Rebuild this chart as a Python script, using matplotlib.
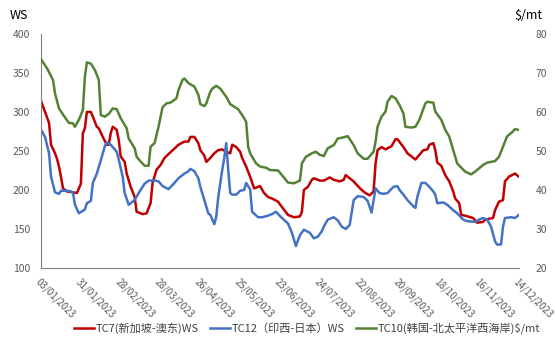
import matplotlib
matplotlib.use("Agg")
import matplotlib.pyplot as plt

plt.rcParams['font.family'] = ['Noto Sans CJK SC', 'DejaVu Sans']

# trading-day index (0 = 03/01/2023) and values
tick_labels = ["03/01/2023", "31/01/2023", "28/02/2023", "28/03/2023", "26/04/2023",
               "25/05/2023", "23/06/2023", "24/07/2023", "22/08/2023", "20/09/2023",
               "18/10/2023", "16/11/2023", "14/12/2023"]
tick_pos = [0, 20, 40, 60, 80, 100, 120, 140, 160, 180, 200, 220, 240]

tc7_day = [0, 2, 4, 5, 7, 8, 9, 10, 11, 13, 16, 18, 20, 21, 22, 23, 25, 26, 28, 29,
           31, 33, 34, 35, 36, 38, 39, 40, 42, 43, 45, 47, 48, 51, 53, 55, 56, 58, 60,
           62, 64, 67, 69, 72, 74, 75, 77, 79, 80, 82, 83, 85, 87, 89, 91, 93, 95, 96,
           98, 100, 101, 103, 105, 107, 109, 110, 112, 114, 116, 119, 121, 124, 127,
           130, 131, 132, 134, 136, 137, 140, 142, 145, 147, 150, 152, 153, 155, 157,
           158, 161, 163, 165, 167, 168, 169, 171, 173, 176, 178, 179, 182, 184, 188,
           190, 192, 194, 195, 197, 198, 199, 201, 203, 205, 207, 208, 210, 211, 213,
           217, 219, 222, 223, 227, 228, 230, 232, 233, 235, 238, 240]
tc7_ws = [314, 300, 286, 258, 247, 240, 230, 217, 202, 198, 197, 196, 208, 273, 279,
          300, 300, 294, 281, 279, 268, 258, 258, 273, 281, 277, 264, 243, 236, 221,
          204, 191, 172, 169, 170, 183, 209, 226, 232, 241, 246, 253, 258, 262, 262,
          268, 268, 260, 251, 244, 236, 241, 247, 251, 252, 249, 247, 258, 255, 249,
          241, 230, 217, 202, 204, 205, 196, 191, 189, 185, 178, 168, 165, 166, 172,
          200, 204, 213, 215, 212, 212, 216, 213, 211, 213, 219, 215, 211, 208, 200,
          196, 193, 198, 234, 251, 255, 252, 256, 265, 265, 255, 247, 239, 245, 251,
          252, 258, 260, 251, 235, 231, 219, 211, 198, 189, 183, 168, 167, 164, 158,
          159, 162, 164, 174, 185, 187, 211, 217, 221, 217]

tc12_day = [0, 2, 4, 5, 7, 9, 10, 13, 15, 16, 17, 19, 22, 23, 25, 26, 28, 30, 32, 33,
            35, 38, 39, 41, 42, 44, 47, 49, 52, 54, 57, 59, 61, 64, 67, 69, 70, 72, 74,
            75, 77, 79, 80, 82, 84, 85, 87, 88, 89, 91, 92, 93, 94, 95, 96, 98, 100,
            102, 103, 105, 106, 109, 111, 114, 116, 118, 121, 124, 126, 128, 130, 132,
            135, 137, 139, 141, 142, 144, 147, 149, 151, 153, 155, 157, 159, 162, 164,
            166, 168, 170, 172, 174, 177, 179, 180, 182, 184, 187, 188, 189, 191, 193,
            195, 197, 198, 199, 202, 204, 207, 209, 212, 214, 218, 220, 222, 224, 226,
            228, 229, 231, 232, 233, 236, 238, 240]
tc12_ws = [277, 268, 247, 217, 197, 195, 199, 199, 198, 197, 181, 170, 175, 183, 186,
           209, 221, 238, 256, 261, 258, 249, 239, 217, 196, 181, 187, 196, 208, 212,
           212, 211, 205, 201, 209, 215, 217, 221, 224, 227, 224, 215, 204, 187, 170,
           168, 156, 166, 191, 226, 241, 260, 226, 196, 194, 194, 199, 200, 209, 201,
           172, 165, 165, 167, 169, 172, 164, 157, 145, 128, 142, 149, 145, 138, 140,
           147, 153, 162, 165, 161, 153, 150, 155, 187, 192, 191, 186, 171, 202, 196,
           195, 196, 204, 205, 200, 194, 187, 179, 177, 191, 209, 209, 204, 198, 194,
           183, 184, 181, 174, 170, 162, 160, 159, 162, 164, 162, 153, 134, 130, 130,
           153, 164, 165, 164, 168]

tc10_day = [0, 3, 6, 7, 9, 12, 14, 16, 17, 19, 21, 22, 23, 25, 27, 29, 30, 32, 34, 36,
            38, 40, 43, 44, 47, 48, 50, 52, 54, 55, 57, 59, 61, 63, 65, 68, 69, 71, 72,
            74, 77, 79, 80, 82, 83, 85, 86, 88, 90, 93, 95, 99, 101, 103, 104, 105, 108,
            110, 113, 115, 119, 121, 124, 127, 130, 131, 133, 136, 138, 140, 142, 144,
            147, 149, 152, 154, 157, 159, 162, 164, 167, 168, 169, 171, 173, 174, 176,
            178, 180, 182, 183, 186, 188, 190, 193, 194, 197, 198, 201, 203, 205, 207,
            209, 213, 216, 218, 222, 224, 228, 230, 233, 234, 237, 238, 240]
tc10_usd = [73.5, 71.2, 68.2, 64.8, 60.9, 58.6, 57.2, 57.1, 56.2, 58.0, 60.5, 69.0,
            72.7, 72.4, 70.8, 68.2, 59.2, 58.8, 59.5, 60.9, 60.7, 58.4, 55.8, 53.2,
            50.7, 48.5, 47.3, 46.2, 46.2, 51.1, 52.0, 56.2, 61.2, 62.2, 62.4, 63.5,
            65.6, 68.2, 68.6, 67.4, 66.5, 64.4, 62.0, 61.5, 62.2, 65.2, 66.0, 66.7,
            66.0, 63.9, 62.0, 60.7, 59.2, 57.5, 51.1, 49.4, 46.8, 46.0, 45.7, 45.1,
            45.0, 43.8, 41.9, 41.7, 42.4, 46.8, 48.5, 49.4, 49.8, 49.0, 48.7, 50.7,
            51.5, 53.2, 53.5, 53.8, 51.5, 49.4, 48.0, 48.0, 49.8, 52.4, 56.2, 58.8,
            60.1, 62.6, 64.1, 63.5, 61.8, 59.6, 56.2, 56.0, 56.2, 58.0, 62.2, 62.6,
            62.4, 60.1, 58.0, 55.4, 53.7, 50.2, 46.8, 44.7, 44.0, 44.7, 46.4, 47.0,
            47.4, 48.5, 52.4, 53.7, 55.0, 55.6, 55.4]

red = "#C00000"
blue = "#4472C4"
green = "#548235"
grey = "#595959"

fig = plt.figure(figsize=(5.55, 3.4), dpi=100)
ax = fig.add_axes([0.074, 0.212, 0.861, 0.688])
ax2 = ax.twinx()

l1, = ax.plot(tc7_day, tc7_ws, color=red, lw=1.8, label="TC7(新加坡-澳东)WS")
l2, = ax.plot(tc12_day, tc12_ws, color=blue, lw=1.8, label="TC12（印西-日本）WS")
l3, = ax2.plot(tc10_day, tc10_usd, color=green, lw=1.8, label="TC10(韩国-北太平洋西海岸)$/mt")

ax.set_xlim(0, 240)
ax.set_ylim(100, 400)
ax2.set_ylim(20, 80)
ax.set_yticks(range(100, 401, 50))
ax2.set_yticks(range(20, 81, 10))

ax.set_xticks(tick_pos)
ax.set_xticklabels(tick_labels, rotation=-45, ha="left", va="top",
                   rotation_mode="anchor", fontsize=7, color=grey)
ax.tick_params(axis="x", length=0, pad=6)
ax.tick_params(axis="y", length=0, labelsize=7.5, labelcolor=grey, pad=8)
ax2.tick_params(axis="y", length=0, labelsize=7.5, labelcolor=grey, pad=12)

for a in (ax, ax2):
    a.spines["top"].set_visible(False)
    a.spines["right"].set_visible(False)
    a.spines["left"].set_visible(False)
    a.spines["bottom"].set_visible(False)
ax.spines["left"].set_visible(True)
ax.spines["left"].set_color("#808080")
ax.spines["bottom"].set_visible(True)
ax.spines["bottom"].set_color("#808080")

fig.text(0.018, 0.955, "WS", fontsize=9, ha="left", va="center")
fig.text(0.978, 0.955, "$/mt", fontsize=9, ha="right", va="center")

fig.legend(handles=[l1, l2, l3], loc="center", bbox_to_anchor=(0.553, 0.035),
           ncol=3, frameon=False, fontsize=8, handlelength=1.8,
           handletextpad=0.15, columnspacing=1.0, labelcolor="#404040")

fig.savefig("out.png", dpi=100)
